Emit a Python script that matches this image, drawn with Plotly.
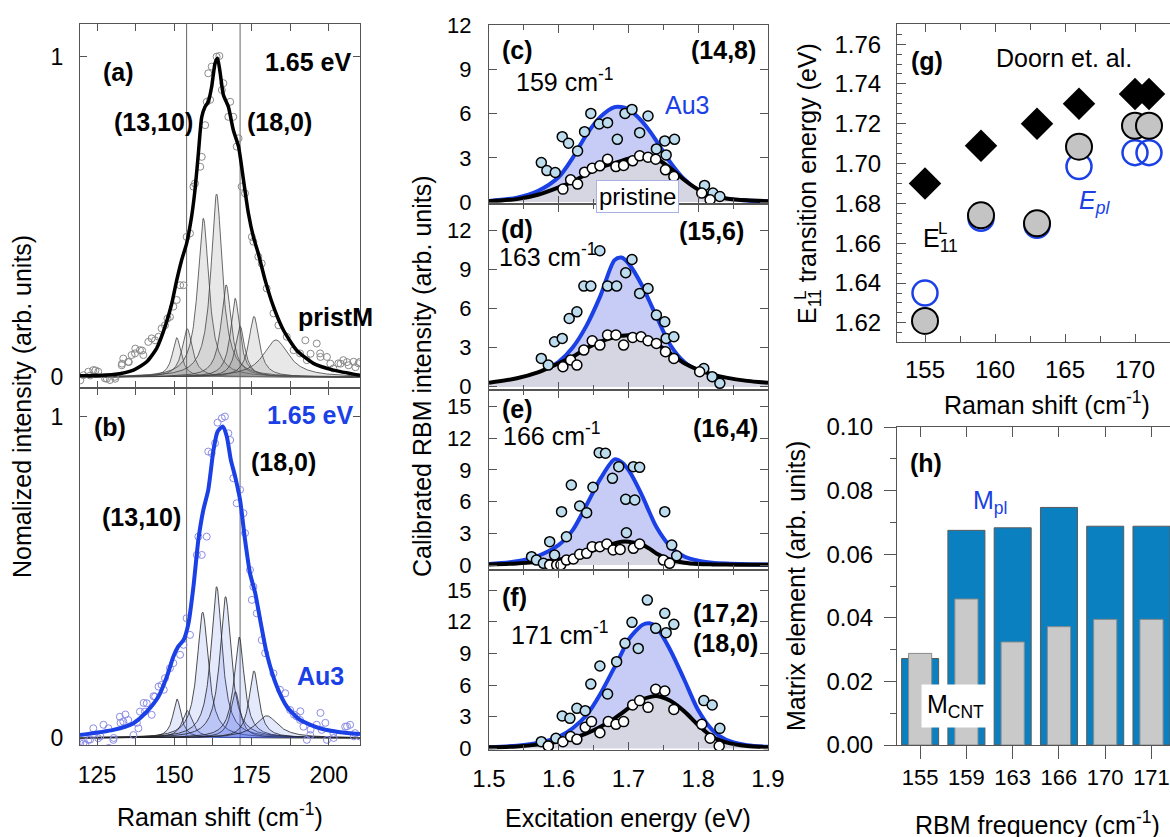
import numpy as np
import plotly.graph_objects as go

# ======================= DATA =======================
# (a) pristine, 1.65 eV : measured points, fit envelope, Lorentzian components
a_pts_x = [119.6, 120.6, 122.2, 122.8, 123.8, 124.5, 125.4, 127.6, 128.2, 129.2, 130.8, 130.9, 133.0, 133.1,
           133.5, 135.1, 135.3, 136.2, 137.3, 137.4, 138.9, 139.6, 140.0,
           141.6, 142.7, 143.8, 144.9, 145.9, 147.0, 147.8, 148.6, 149.7, 150.8, 151.9, 153.0, 154.0, 155.1,
           156.2, 156.7, 158.4, 158.9, 160.0, 160.5, 161.6, 161.0, 162.1, 163.7, 164.6, 165.4, 165.9, 168.1,
           167.5, 169.1, 170.8, 170.2, 171.8, 172.9, 175.1, 175.6, 177.2, 178.3, 179.9, 182.1, 183.7, 186.4,
           188.6, 190.7, 192.4, 192.9, 194.1, 196.1, 197.2, 197.3, 199.4, 200.5, 201.5, 203.1, 203.8, 204.7,
           205.9, 206.4, 208.0, 208.6, 209.6, 209.9]
a_pts_y = [-0.010, 0.006, 0.017, 0.005, 0.022, 0.021, 0.017, -0.004, -0.005, -0.009, 0.001, -0.005, 0.037, 0.042,
           0.058, 0.048, 0.047, 0.069, 0.074, 0.089, 0.084, 0.083, 0.069,
           0.110, 0.121, 0.115, 0.126, 0.152, 0.162, 0.183, 0.188, 0.220, 0.241, 0.287, 0.287, 0.438, 0.449,
           0.595, 0.605, 0.657, 0.688, 0.787, 0.860, 0.866, 0.949, 0.970, 1.001, 1.003, 0.897, 0.918, 0.860,
           0.813, 0.813, 0.746, 0.720, 0.595, 0.574, 0.438, 0.423, 0.376, 0.355, 0.277, 0.199, 0.162, 0.126,
           0.084, 0.074, 0.115, 0.053, 0.073, 0.105, 0.074, 0.063, 0.063, 0.042, 0.027, 0.043, 0.042, 0.053,
           0.047, 0.037, 0.048, 0.031, 0.043, 0.047]
a_env_x = [119.5, 130.3, 136.8, 141.1, 144.3, 147.0, 149.2, 150.8, 152.4, 154.0, 155.6, 156.7, 157.8, 158.9,
           160.0, 161.0, 162.1, 163.2, 164.0, 164.8, 165.9, 167.5, 169.1, 170.8, 172.4, 174.0, 175.6, 177.2,
           179.4, 182.1, 185.3, 189.6, 195.0, 201.5, 210.1]
a_env_y = [0.004, 0.008, 0.022, 0.048, 0.090, 0.157, 0.230, 0.303, 0.366, 0.418, 0.501, 0.584, 0.699, 0.813,
           0.845, 0.860, 0.907, 0.980, 0.996, 0.954, 0.881, 0.845, 0.772, 0.720, 0.616, 0.511, 0.438, 0.386,
           0.303, 0.220, 0.147, 0.084, 0.043, 0.022, 0.006]
a_pk_center = [150.8, 154.2, 159.4, 163.7, 166.8, 169.7, 171.3, 175.8, 182.9]
a_pk_height = [0.123, 0.151, 0.496, 0.572, 0.288, 0.246, 0.159, 0.190, 0.116]
a_pk_hwhm = [1.7, 2.0, 2.2, 2.2, 2.0, 1.8, 1.8, 2.0, 5.0]

# (b) Au3, 1.65 eV
b_pts_x = [119.6, 120.6, 121.2, 122.2, 122.8, 123.8, 125.4, 126.1, 127.1, 128.7, 128.8, 130.3, 130.4, 132.4,
           132.6, 133.5, 134.2, 135.1, 136.8, 137.9, 138.4, 138.9, 140.1, 140.5,
           141.1, 142.7, 143.3, 143.8, 144.9, 145.9, 146.6, 147.0, 148.6, 149.7, 151.9, 153.0, 154.0, 155.1,
           157.3, 157.8, 158.9, 160.5, 161.0, 162.1, 163.2, 164.0, 165.4, 166.4, 167.5, 168.1, 169.1, 170.2,
           171.3, 172.4, 172.9, 174.5, 175.1, 175.6, 176.7, 178.3, 179.4, 182.1, 184.2, 185.9, 187.5, 188.7,
           189.6, 190.7, 190.8, 191.8, 192.9, 194.0, 194.1, 196.1, 197.3, 197.7, 198.9, 199.4, 201.5, 201.6,
           205.3, 205.9, 206.9, 208.1, 208.5, 209.9]
b_pts_y = [-0.016, -0.017, -0.021, -0.006, -0.005, 0.030, -0.001, 0.005, 0.041, 0.030, -0.031, -0.006, 0.0, 0.066,
           0.047, 0.051, 0.073, 0.056, 0.009, 0.047, 0.030, 0.082, 0.109, 0.082,
           0.108, 0.072, 0.130, 0.129, 0.160, 0.165, 0.150, 0.186, 0.217, 0.233, 0.259, 0.290, 0.373, 0.321,
           0.570, 0.627, 0.570, 0.627, 0.892, 0.887, 0.918, 0.982, 0.996, 1.001, 0.949, 0.928, 0.809, 0.731,
           0.773, 0.700, 0.638, 0.523, 0.430, 0.471, 0.388, 0.305, 0.264, 0.201, 0.150, 0.139, 0.087, 0.073,
           0.067, 0.056, 0.083, 0.035, -0.006, 0.009, 0.026, 0.041, 0.078, 0.025, 0.047, -0.006, 0.015, 0.0,
           0.035, 0.036, 0.041, 0.005, 0.015, 0.005]
b_env_x = [119.5, 130.3, 136.8, 141.1, 144.9, 147.6, 149.7, 151.3, 153.0, 154.6, 156.2, 157.8, 159.4, 161.0,
           162.7, 164.0, 165.7, 167.0, 168.3, 169.7, 171.3, 172.9, 174.5, 176.2, 177.8, 179.9, 183.2, 186.4,
           190.7, 197.2, 203.7, 210.1]
b_env_y = [0.009, 0.025, 0.046, 0.082, 0.129, 0.191, 0.253, 0.285, 0.305, 0.357, 0.471, 0.617, 0.710, 0.773,
           0.897, 0.954, 0.970, 0.939, 0.866, 0.814, 0.741, 0.617, 0.513, 0.451, 0.368, 0.264, 0.160, 0.098,
           0.056, 0.030, 0.018, 0.012]
b_pk_center = [150.9, 154.2, 159.2, 163.7, 166.6, 169.8, 171.0, 175.8, 179.9]
b_pk_height = [0.121, 0.085, 0.392, 0.471, 0.440, 0.144, 0.314, 0.209, 0.069]
b_pk_hwhm = [1.6, 2.0, 2.2, 2.2, 2.2, 1.8, 2.0, 1.9, 4.5]

# (c)-(f) resonance profiles (fit curves sampled on fit_E) and data points
fit_E = [1.50, 1.54, 1.57, 1.60, 1.62, 1.64, 1.66, 1.68, 1.69, 1.70, 1.72, 1.73, 1.74, 1.76, 1.78, 1.80,
         1.82, 1.84, 1.87, 1.90]
c_fit_au3 = [0.08, 0.3, 0.75, 1.7, 3.0, 4.6, 5.8, 6.45, 6.45, 6.3, 5.45, 4.85, 4.15, 2.7, 1.55, 0.8, 0.42, 0.22, 0.1, 0.05]
c_fit_pri = [0.06, 0.2, 0.5, 1.0, 1.4, 1.9, 2.35, 2.65, 2.8, 2.95, 3.1, 3.1, 2.95, 2.3, 1.5, 0.85, 0.45, 0.25, 0.12, 0.06]
d_fit_au3 = [0.2, 0.5, 0.95, 1.9, 3.0, 4.7, 7.0, 9.7, 9.9, 9.45, 7.7, 6.55, 5.4, 3.2, 1.9, 1.25, 0.85, 0.6, 0.4, 0.28]
d_fit_pri = [0.3, 0.65, 1.1, 1.8, 2.3, 2.95, 3.45, 3.8, 3.9, 3.95, 3.8, 3.6, 3.3, 2.55, 1.8, 1.3, 0.95, 0.7, 0.45, 0.3]
e_fit_au3 = [0.1, 0.35, 0.85, 1.9, 3.3, 5.7, 8.2, 10.0, 9.75, 9.0, 6.5, 5.0, 3.6, 1.75, 0.8, 0.4, 0.22, 0.14, 0.08, 0.05]
e_fit_pri = [0.05, 0.15, 0.3, 0.5, 0.8, 1.15, 1.65, 2.05, 2.2, 2.2, 1.9, 1.55, 1.1, 0.5, 0.22, 0.1, 0.06, 0.04, 0.03, 0.02]
f_fit_au3 = [0.1, 0.25, 0.5, 1.1, 1.9, 3.15, 5.2, 7.7, 9.0, 10.3, 11.7, 11.85, 11.5, 9.3, 6.5, 3.6, 1.75, 0.8, 0.3, 0.15]
f_fit_pri = [0.1, 0.18, 0.35, 0.63, 0.95, 1.42, 2.05, 2.84, 3.3, 3.8, 4.64, 4.85, 4.96, 4.5, 3.5, 2.2, 1.1, 0.57, 0.22, 0.1]

c_au3_x = [1.575, 1.583, 1.595, 1.605, 1.614, 1.627, 1.637, 1.646, 1.658, 1.670, 1.684, 1.695, 1.705, 1.716,
           1.728, 1.740, 1.752, 1.754, 1.766, 1.809, 1.821, 1.831]
c_au3_y = [2.68, 2.14, 2.01, 4.44, 3.99, 3.47, 4.78, 6.02, 5.30, 5.39, 4.26, 6.02, 6.29, 4.71, 5.84, 3.61,
           4.15, 3.20, 4.26, 1.13, 0.61, 0.38]
c_pri_x = [1.606, 1.617, 1.627, 1.637, 1.648, 1.659, 1.670, 1.682, 1.693, 1.706, 1.716, 1.728, 1.739, 1.753,
           1.765, 1.805, 1.817]
c_pri_y = [0.88, 1.51, 1.22, 2.03, 2.30, 2.46, 2.91, 2.41, 2.48, 2.80, 3.14, 3.05, 2.91, 2.19, 1.74, 0.61, 0.16]

d_au3_x = [1.575, 1.585, 1.594, 1.605, 1.615, 1.626, 1.636, 1.646, 1.659, 1.670, 1.683, 1.696, 1.705, 1.716,
           1.728, 1.740, 1.752, 1.754, 1.765, 1.808, 1.820, 1.831]
d_au3_y = [2.17, 1.66, 3.45, 3.70, 5.23, 5.74, 7.71, 7.71, 10.42, 7.71, 7.71, 8.73, 9.75, 7.15, 7.53, 5.49,
           4.98, 3.70, 3.83, 1.40, 0.77, 0.26]
d_pri_x = [1.606, 1.617, 1.626, 1.636, 1.648, 1.659, 1.670, 1.682, 1.693, 1.706, 1.718, 1.728, 1.740, 1.753,
           1.765, 1.802]
d_pri_y = [1.53, 2.04, 1.66, 2.81, 3.52, 3.19, 3.96, 3.96, 3.19, 3.78, 3.83, 3.52, 3.32, 2.68, 2.17, 1.15]

e_au3_x = [1.561, 1.568, 1.578, 1.587, 1.594, 1.604, 1.611, 1.618, 1.630, 1.640, 1.649, 1.658, 1.667, 1.677,
           1.686, 1.696, 1.697, 1.707, 1.709, 1.716, 1.752, 1.762, 1.769]
e_au3_y = [0.79, 0.47, 0.16, 2.21, 0.95, 5.05, 2.68, 7.58, 5.59, 4.96, 7.36, 10.64, 10.58, 8.21, 9.31, 6.22,
           3.06, 9.31, 6.16, 9.25, 5.05, 1.89, 0.88]
e_pri_x = [1.587, 1.597, 1.603, 1.611, 1.621, 1.630, 1.640, 1.648, 1.659, 1.669, 1.678, 1.688, 1.707, 1.716,
           1.750, 1.759]
e_pri_y = [0.0, 0.0, 0.02, 0.47, 0.57, 1.01, 1.11, 1.74, 1.74, 1.99, 1.42, 1.48, 1.58, 1.99, 0.47, 0.16]

f_au3_x = [1.575, 1.585, 1.596, 1.605, 1.616, 1.626, 1.638, 1.646, 1.659, 1.670, 1.683, 1.695, 1.705, 1.714,
           1.727, 1.739, 1.752, 1.754, 1.765, 1.808, 1.820, 1.831]
f_au3_y = [0.63, 0.22, 0.95, 3.06, 2.84, 3.79, 3.57, 6.09, 7.80, 5.15, 8.21, 9.95, 11.94, 9.47, 14.05, 11.37,
           12.79, 10.96, 11.75, 4.52, 4.10, 1.89]
f_pri_x = [1.585, 1.606, 1.617, 1.626, 1.638, 1.647, 1.659, 1.671, 1.682, 1.693, 1.706, 1.716, 1.728, 1.739,
           1.752, 1.765, 1.805, 1.817, 1.830]
f_pri_y = [0.22, 0.63, 1.11, 0.85, 1.99, 2.53, 1.48, 2.53, 2.27, 2.53, 4.10, 4.52, 3.88, 5.59, 5.43, 3.69,
           2.27, 0.95, 0.22]

# (g) transition energies vs RBM frequency
g_rbm = [155, 159, 163, 166, 170, 171]
g_doorn = [1.690, 1.709, 1.720, 1.730, 1.735, 1.735]
g_e11 = [1.621, 1.674, 1.670, 1.7085, 1.719, 1.719]
g_epl = [1.635, 1.6725, 1.669, 1.6985, 1.7055, 1.7055]

# (h) matrix elements
h_labels = ["155", "159", "163", "166", "170", "171"]
h_mpl = [0.0272, 0.0675, 0.0683, 0.0747, 0.0688, 0.0688]
h_mcnt = [0.0288, 0.0459, 0.0324, 0.0372, 0.0395, 0.0395]

# ======================= STYLE / LAYOUT =======================
W, H = 1170, 837
FONT = "Liberation Sans, Arial, sans-serif"
AX = "#555555"
BLUE = "#1a40e6"
TS = 25  # annotation text size


def dx(p0, p1):
    return [p0 / W, min(p1 / W, 1.0)]


def dy(pbot, ptop):
    return [1 - pbot / H, 1 - ptop / H]


def P(xp, yp):
    return xp / W, 1 - yp / H


def axis(fs=24, **kw):
    d = dict(showline=True, linecolor=AX, linewidth=1, mirror="ticks", ticks="inside", ticklen=7,
             tickwidth=1, tickcolor=AX, showgrid=False, zeroline=False,
             tickfont=dict(size=fs, family=FONT, color="black"))
    d.update(kw)
    return d


fig = go.Figure()

# ---- (a) and (b) ----
grid = np.linspace(119.5, 210.1, 700)


def lorentz(c, h, w):
    return h / (1.0 + ((grid - c) / w) ** 2)


for c, h, w in zip(a_pk_center, a_pk_height, a_pk_hwhm):
    fig.add_trace(go.Scatter(x=grid, y=lorentz(c, h, w), mode="lines", fill="tozeroy",
                             fillcolor="rgba(120,120,120,0.17)", line=dict(color="#444444", width=0.8),
                             xaxis="x", yaxis="y", hoverinfo="skip"))
fig.add_trace(go.Scatter(x=a_pts_x, y=a_pts_y, mode="markers",
                         marker=dict(symbol="circle-open", size=7, color="#8a8a8a", line=dict(width=1)),
                         xaxis="x", yaxis="y"))
fig.add_trace(go.Scatter(x=a_env_x, y=a_env_y, mode="lines",
                         line=dict(color="black", width=3.5, shape="spline", smoothing=0.6),
                         xaxis="x", yaxis="y"))

for c, h, w in zip(b_pk_center, b_pk_height, b_pk_hwhm):
    fig.add_trace(go.Scatter(x=grid, y=lorentz(c, h, w), mode="lines", fill="tozeroy",
                             fillcolor="rgba(70,100,235,0.14)", line=dict(color="#222222", width=0.8),
                             xaxis="x2", yaxis="y2", hoverinfo="skip"))
fig.add_trace(go.Scatter(x=b_pts_x, y=b_pts_y, mode="markers",
                         marker=dict(symbol="circle-open", size=7, color="#8c8ce6", line=dict(width=1)),
                         xaxis="x2", yaxis="y2"))
fig.add_trace(go.Scatter(x=b_env_x, y=b_env_y, mode="lines",
                         line=dict(color=BLUE, width=4, shape="spline", smoothing=0.6),
                         xaxis="x2", yaxis="y2"))

# ---- (c)-(f) ----
panels = [
    ("x3", "y3", c_fit_au3, c_fit_pri, c_au3_x, c_au3_y, c_pri_x, c_pri_y),
    ("x4", "y4", d_fit_au3, d_fit_pri, d_au3_x, d_au3_y, d_pri_x, d_pri_y),
    ("x5", "y5", e_fit_au3, e_fit_pri, e_au3_x, e_au3_y, e_pri_x, e_pri_y),
    ("x6", "y6", f_fit_au3, f_fit_pri, f_au3_x, f_au3_y, f_pri_x, f_pri_y),
]
for xa, ya, fa, fp, ax_, ay_, px_, py_ in panels:
    fig.add_trace(go.Scatter(x=fit_E, y=fa, mode="lines", fill="tozeroy", fillcolor="#c6ccf6",
                             line=dict(color=BLUE, width=4, shape="spline", smoothing=0.8), xaxis=xa, yaxis=ya))
    fig.add_trace(go.Scatter(x=fit_E, y=fp, mode="lines", fill="tozeroy", fillcolor="#d6d6e2",
                             line=dict(color="black", width=4, shape="spline", smoothing=0.8), xaxis=xa, yaxis=ya))
    fig.add_trace(go.Scatter(x=ax_, y=ay_, mode="markers",
                             marker=dict(size=10, color="#bddcee", line=dict(color="black", width=1.5)),
                             xaxis=xa, yaxis=ya))
    fig.add_trace(go.Scatter(x=px_, y=py_, mode="markers",
                             marker=dict(size=10, color="white", line=dict(color="black", width=1.5)),
                             xaxis=xa, yaxis=ya))

# ---- (g) ----
fig.add_trace(go.Scatter(x=g_rbm, y=g_doorn, mode="markers", marker=dict(symbol="diamond", size=25, color="black"),
                         xaxis="x7", yaxis="y7"))
fig.add_trace(go.Scatter(x=g_rbm, y=g_epl, mode="markers",
                         marker=dict(symbol="circle-open", size=25, color=BLUE, line=dict(width=2.5)),
                         xaxis="x7", yaxis="y7"))
fig.add_trace(go.Scatter(x=g_rbm, y=g_e11, mode="markers",
                         marker=dict(symbol="circle", size=26, color="#c4c4c4", line=dict(color="black", width=2)),
                         xaxis="x7", yaxis="y7"))

# ---- (h) ----
h_idx = list(range(len(h_labels)))
H_RANGE = [-0.5, 5.40]
fig.add_trace(go.Bar(x=h_idx, y=h_mpl, width=0.8, marker=dict(color="#0a80c1", line=dict(color="#5a5a5a", width=1)),
                     xaxis="x8", yaxis="y8"))
fig.add_trace(go.Bar(x=h_idx, y=h_mcnt, width=0.5, marker=dict(color="#c9c9c9", line=dict(color="#8a8a8a", width=1)),
                     xaxis="x8", yaxis="y8"))
fig.add_trace(go.Scatter(x=[], y=[], xaxis="x9", yaxis="y8", showlegend=False))
fig.add_trace(go.Scatter(x=[], y=[], xaxis="x10", yaxis="y8", showlegend=False))

# ---- axes ----
lay = dict(width=W, height=H, margin=dict(l=0, r=0, t=0, b=0), paper_bgcolor="white", plot_bgcolor="white",
           showlegend=False, barmode="overlay", font=dict(family=FONT, size=TS, color="black"), template="none")

ab_x = dict(range=[119.5, 210.1], tick0=125, dtick=25,
            minor=dict(tick0=125, dtick=12.5, ticks="inside", ticklen=7, tickcolor=AX, showgrid=False))
lay["xaxis"] = axis(fs=23, domain=dx(80, 360), anchor="y", showticklabels=False, **ab_x)
lay["yaxis"] = axis(fs=23, domain=dy(388, 24), anchor="x", range=[-0.034, 1.103], tickvals=[0, 1],
                    ticktext=["0", "1"], ticklabelstandoff=11)
lay["xaxis2"] = axis(fs=23, domain=dx(80, 360), anchor="y2", ticklabelstandoff=9, **ab_x)
lay["yaxis2"] = axis(fs=23, domain=dy(745, 388), anchor="x2", range=[-0.022, 1.090], tickvals=[0, 1],
                     ticktext=["0", "1"], ticklabelstandoff=11)

cf_x = dict(range=[1.5, 1.9], tick0=1.5, dtick=0.1, ticklen=8, tickformat=".1f",
            minor=dict(tick0=1.5, dtick=0.05, ticks="inside", ticklen=5, tickcolor=AX, showgrid=False))
cf_dom = {3: (204, 25, [-0.13, 12.02]), 4: (390, 204, [-0.25, 14.0]), 5: (570, 390, [-0.47, 16.57]),
          6: (750, 570, [-0.16, 16.9])}
for k, (pb, pt, rng) in cf_dom.items():
    lay[f"xaxis{k}"] = axis(domain=dx(489, 768), anchor=f"y{k}", showticklabels=(k == 6), ticklabelstandoff=7,
                            **cf_x)
    lay[f"yaxis{k}"] = axis(fs=22, domain=dy(pb, pt), anchor=f"x{k}", range=rng, tick0=0, dtick=3, ticklen=8,
                            ticklabelstandoff=12)

lay["xaxis7"] = axis(domain=dx(897, 1170), anchor="y7", range=[153.0, 172.5], tick0=155, dtick=5, ticklen=8,
                     ticklabelstandoff=6,
                     minor=dict(tick0=155, dtick=2.5, ticks="inside", ticklen=6, tickcolor=AX, showgrid=False))
lay["yaxis7"] = axis(domain=dy(342, 24), anchor="x7", range=[1.6104, 1.7701], tick0=1.62, dtick=0.02,
                     tickformat=".2f", ticklen=9, mirror=False, ticklabelstandoff=10,
                     minor=dict(tick0=1.62, dtick=0.005, ticks="inside", ticklen=5, tickcolor=AX, showgrid=False))

lay["xaxis8"] = axis(domain=dx(897, 1170), anchor="y8", range=H_RANGE, tickvals=h_idx,
                     ticks="outside", ticklen=13, mirror=False, showticklabels=False)
lay["xaxis10"] = axis(fs=22, overlaying="x8", anchor="y8", side="bottom", range=H_RANGE, tickvals=h_idx,
                      ticktext=h_labels, ticks="", showline=False, mirror=False, ticklabelstandoff=17,
                      ticklabeloverflow="allow")
lay["yaxis8"] = axis(domain=dy(745, 427), anchor="x8", range=[0, 0.1], tick0=0, dtick=0.02, tickformat=".2f",
                     ticks="outside", ticklen=12, mirror=False, ticklabelstandoff=6,
                     minor=dict(tick0=0, dtick=0.01, ticks="outside", ticklen=6, tickcolor=AX, showgrid=False))
lay["xaxis9"] = axis(overlaying="x8", anchor="y8", side="top", range=H_RANGE, tickvals=h_idx,
                     ticks="inside", ticklen=10, mirror=False, showticklabels=False)

# ---- vertical guide lines in (a)/(b) ----
shapes = []
for xv in [154.0, 171.3]:
    shapes.append(dict(type="line", xref="x", yref="paper", x0=xv, x1=xv, y0=1 - 745 / H, y1=1 - 24 / H,
                       line=dict(color="#666666", width=1), layer="below"))
lay["shapes"] = shapes


# ---- text ----
def txt(s, xp, yp, size=TS, color="black", xanchor="center", yanchor="middle", angle=0, **kw):
    x, y = P(xp, yp)
    return dict(text=s, x=x, y=y, xref="paper", yref="paper", showarrow=False, xanchor=xanchor,
                yanchor=yanchor, textangle=angle, font=dict(size=size, color=color, family=FONT), **kw)


anns = [
    # (a)
    txt("<b>(a)</b>", 118, 72), txt("<b>1.65 eV</b>", 308, 62),
    txt("<b>(13,10)</b>", 153, 122), txt("<b>(18,0)</b>", 279, 122), txt("<b>pristM</b>", 335, 317),
    # (b)
    txt("<b>(b)</b>", 110, 427), txt("<b>1.65 eV</b>", 310, 415, color=BLUE),
    txt("<b>(18,0)</b>", 283, 462), txt("<b>(13,10)</b>", 141, 517), txt("<b>Au3</b>", 320, 676, color=BLUE),
    # (c)
    txt("<b>(c)</b>", 517, 50), txt("<b>(14,8)</b>", 723, 50),
    txt("159 cm<sup>-1</sup>", 514, 80, xanchor="left"), txt("Au3", 687, 105, color=BLUE),
    txt("pristine", 637, 196, size=24, bgcolor="white", bordercolor="#a9b0e6", borderwidth=1, borderpad=2),
    # (d)
    txt("<b>(d)</b>", 517, 229), txt("<b>(15,6)</b>", 712, 231),
    txt("163 cm<sup>-1</sup>", 497, 255, xanchor="left"),
    # (e)
    txt("<b>(e)</b>", 517, 409), txt("<b>(16,4)</b>", 725, 428),
    txt("166 cm<sup>-1</sup>", 501, 434, xanchor="left"),
    # (f)
    txt("<b>(f)</b>", 514, 597), txt("<b>(17,2)</b>", 725, 613), txt("<b>(18,0)</b>", 725, 643),
    txt("171 cm<sup>-1</sup>", 509, 633, xanchor="left"),
    # (g)
    txt("<b>(g)</b>", 927, 61), txt("Doorn et. al.", 1064, 58),
    txt("E<sub>11</sub>", 921, 240, xanchor="left"), txt("L", 942, 229, size=17),
    txt("<i>E<sub>pl</sub></i>", 1077, 202, xanchor="left", color=BLUE),
    # (h)
    txt("<b>(h)</b>", 926, 463), txt("M<sub>pl</sub>", 971, 502, xanchor="left", color=BLUE),
    txt("M<sub>CNT</sub>", 955, 706, bgcolor="white", borderpad=5),
    # axis titles
    txt("Nomalized intensity (arb. units)", 22, 407, angle=-90),
    txt("Raman shift (cm<sup>-1</sup>)", 220, 815),
    txt("Calibrated RBM intensity (arb. units)", 422, 376, angle=-90),
    txt("Excitation energy (eV)", 628, 818),
    txt("E<sub>11</sub> transition energy (eV)", 809, 184, angle=-90), txt("L", 800, 296, size=17, angle=-90),
    txt("Raman shift (cm<sup>-1</sup>)", 1047, 403),
    txt("Matrix element (arb. units)", 796, 586, angle=-90),
    txt("RBM frequency (cm<sup>-1</sup>)", 1037, 823),
]
lay["annotations"] = anns
fig.update_layout(**lay)

fig.write_html("out.html", config={"displayModeBar": False},
               post_script="document.body.style.margin='0';")
